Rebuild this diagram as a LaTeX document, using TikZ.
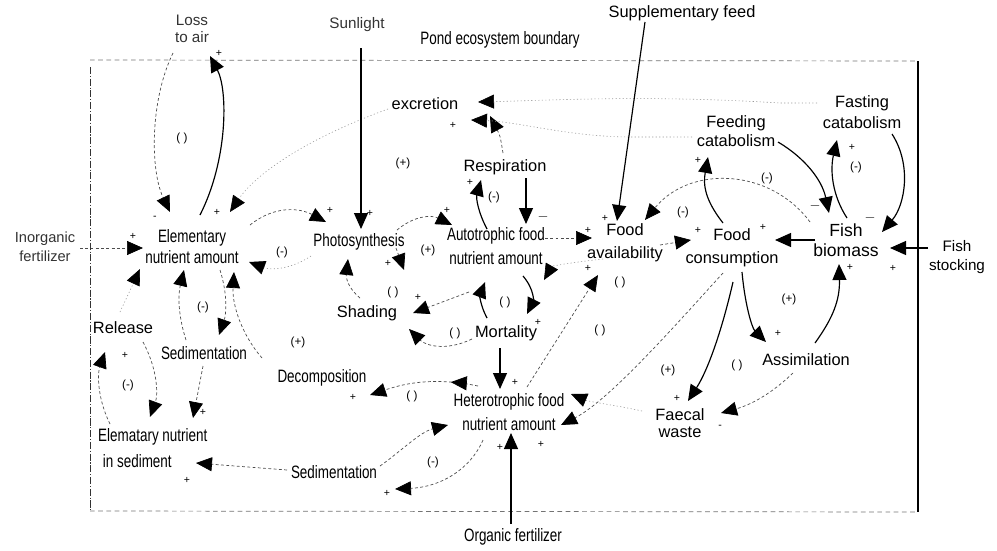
\documentclass[tikz,border=0pt]{standalone}
\usepackage{fontspec}
\setmainfont{Liberation Sans}
\newfontfamily\condf{Liberation Sans}[FakeStretch=0.75]
\usetikzlibrary{arrows.meta,calc,decorations.markings}
\begin{document}
\begin{tikzpicture}[x=0.03cm,y=-0.03cm,
  >={Triangle[length=0.48cm,width=0.42cm,color=black]},
  sl/.style={draw=black,line width=1pt,->},
  dl/.style={draw=black!70,line width=0.6pt,dash pattern=on 2.5pt off 2pt,->},
  fl/.style={draw=black!40,line width=0.5pt,dash pattern=on 1pt off 2pt,->},
  nl/.style={font=\fontsize{14}{18}\selectfont,align=center,inner sep=0pt},
  cl/.style={font=\condf\fontsize{15.3}{20}\selectfont,align=center,inner sep=0pt},
  sg/.style={font=\fontsize{9}{9}\selectfont,inner sep=0pt},
  ll/.style={font=\fontsize{10}{10}\selectfont,inner sep=0pt},
  midarrow/.style={postaction={decorate,decoration={markings,mark=at position 0.25 with {\arrow{>}}}}}
]
\useasboundingbox (0,0) rectangle (997,550);
% boundary
\draw[black!80,line width=0.8pt,dash pattern=on 6pt off 1.5pt on 1pt off 1.5pt] (90,67) -- (90,510);
\draw[black!55,line width=0.6pt,dash pattern=on 4pt off 3pt] (90,60) -- (918,61);
\draw[black,line width=0.9pt] (918,61) -- (918,512);
\draw[black!55,line width=0.6pt,dash pattern=on 4pt off 3pt] (90,511) -- (918,512);

% nodes
\node[nl,font=\fontsize{13}{14}\selectfont,text=black!80] (loss) at (192,29) {Loss\\to air};
\node[nl,font=\fontsize{13}{14}\selectfont,text=black!80] (sun) at (357,25) {Sunlight};
\node[cl] (pond) at (500,40) {Pond ecosystem boundary};
\node[nl] (supp) at (682,13) {Supplementary feed};
\node[nl] (excr) at (425,104) {excretion};
\node[nl] (resp) at (505,167) {Respiration};
\node[nl,font=\fontsize{14}{16}\selectfont] (feed) at (736,131) {Feeding\\catabolism};
\node[nl] (fast) at (862,112) {Fasting\\catabolism};
\node[cl,font=\condf\fontsize{15.3}{18}\selectfont] (elem) at (192,247) {Elementary\\nutrient amount};
\node[nl,font=\fontsize{12.5}{16}\selectfont,text=black!80] (inorg) at (45,247) {Inorganic\\fertilizer};
\node[cl] (photo) at (359,242) {Photosynthesis};
\node[cl,font=\condf\fontsize{15.3}{21}\selectfont] (auto) at (496,246) {Autotrophic food\\nutrient amount};
\node[nl,font=\fontsize{14}{19.5}\selectfont] (foodav) at (625,243) {Food\\availability};
\node[nl,font=\fontsize{14}{19.5}\selectfont] (foodcon) at (732,248) {Food\\consumption};
\node[nl,font=\fontsize{15}{17}\selectfont] (fish) at (846,240) {Fish\\biomass};
\node[nl,font=\fontsize{13}{16}\selectfont] (stock) at (957,257) {Fish\\stocking};
\node[nl] (shad) at (367,313) {Shading};
\node[nl] (mort) at (506,333) {Mortality};
\node[nl] (rel) at (123,328) {Release};
\node[cl] (sedl) at (204,353) {Sedimentation};
\node[cl] (decomp) at (322,378) {Decomposition};
\node[cl] (het) at (509,412) {Heterotrophic food\\nutrient amount};
\node[cl] (sedb) at (334,472) {Sedimentation};
\node[cl,align=left,anchor=west,font=\condf\fontsize{15.3}{22}\selectfont] (elsed) at (98,448) {Elematary nutrient\\\hspace*{4pt}in sediment};
\node[cl] (orgf) at (513,537) {Organic fertilizer};
\node[nl] (assim) at (806,360) {Assimilation};
\node[nl,font=\fontsize{14}{15}\selectfont] (faec) at (680,423) {Faecal\\waste};

% connectors
\draw[sl] ($(elem)+(8,-32)$) .. controls (228,160) and (228,90) .. ($(loss)+(18,27)$);
\draw[dl] ($(loss)+(-19,24)$) .. controls (150,100) and (150,170) .. ($(elem)+(-22,-35)$);
\draw[dl] ($(inorg)+(35,1)$) -- ($(elem)+(-49,1)$);
\draw[fl] ($(excr)+(-37,5)$) .. controls (303,140) and (255,175) .. ($(elem)+(38,-35)$);
\draw[dl] ($(elem)+(58,-22)$) .. controls (275,205) and (300,208) .. ($(photo)+(-33,-20)$);
\draw[fl] ($(photo)+(-48,14)$) .. controls (290,270) and (270,270) .. ($(elem)+(57,15)$);
\draw[sl] ($(sun)+(4,23)$) -- ($(photo)+(2,-13)$);
\draw[dl] ($(photo)+(38,-12)$) .. controls (415,215) and (432,215) .. ($(auto)+(-44,-21)$);
\draw[dl] ($(shad)+(-7,-15)$) .. controls (348,288) and (346,278) .. ($(photo)+(-11,17)$);
\draw[dl] ($(photo)+(37,6)$) -- ($(shad)+(37,-43)$);
\draw[dl] ($(auto)+(-27,46)$) -- ($(shad)+(46,0)$);
\draw[dl] ($(mort)+(-34,6)$) .. controls (445,352) and (425,345) .. ($(shad)+(42,16)$);
\draw[sl] ($(resp)+(21,11)$) -- ($(auto)+(30,-22)$);
\draw[sl] ($(auto)+(-9,-17)$) .. controls (478,212) and (476,198) .. ($(resp)+(-24,13)$);
\draw[dl] ($(resp)+(-2,-14)$) .. controls (500,135) .. ($(excr)+(65,12)$);
\draw[fl] ($(feed)+(-44,6)$) -- (632,137) .. controls (570,137) and (520,122) .. ($(excr)+(46,16)$);
\draw[fl] ($(fast)+(-45,-9)$) -- (780,103) .. controls (650,95) and (560,100) .. ($(excr)+(53,-2)$);
\draw[sl] ($(auto)+(27,30)$) .. controls (535,290) and (533,302) .. ($(mort)+(21,-19)$);
\draw[sl] ($(mort)+(-19,-15)$) .. controls (480,305) and (480,295) .. ($(auto)+(-11,36)$);
\draw[sl] ($(mort)+(-6,15)$) -- ($(het)+(-9,-23)$);
\draw[dl] ($(het)+(18,-25)$) -- ($(foodav)+(-27,32)$);
\draw[dl] ($(auto)+(49,-8)$) -- ($(foodav)+(-33,-5)$);
\draw[sl] ($(supp)+(-37,9)$) -- ($(foodav)+(-8,-22)$);
\draw[dl] ($(fish)+(-36,-18)$) .. controls (770,168) and (690,165) .. ($(foodav)+(20,-23)$);
\draw[dl] ($(foodav)+(35,2)$) -- ($(foodcon)+(-41,-8)$);
\draw[sl] ($(fish)+(-31,0)$) -- ($(foodcon)+(43,-8)$);
\draw[sl] ($(foodcon)+(-9,-25)$) .. controls (705,200) and (703,185) .. ($(feed)+(-28,26)$);
\draw[sl] ($(feed)+(42,11)$) .. controls (805,158) and (822,180) .. ($(fish)+(-17,-27)$);
\draw[sl] ($(fish)+(1,-22)$) .. controls (832,195) and (830,170) .. ($(fast)+(-25,28)$);
\draw[sl] ($(fast)+(30,22)$) .. controls (912,165) and (905,205) .. ($(fish)+(36,-8)$);
\draw[sl] ($(stock)+(-29,-9)$) -- ($(fish)+(44,8)$);
\draw[sl] ($(assim)+(9,-17)$) .. controls (833,318) and (840,300) .. ($(fish)+(-7,24)$);
\draw[sl] ($(foodcon)+(10,24)$) .. controls (745,305) and (752,328) .. ($(assim)+(-40,-18)$);
\draw[sl] ($(foodcon)+(1,34)$) .. controls (722,330) and (708,370) .. ($(faec)+(8,-22)$);
\draw[dl] ($(assim)+(-13,13)$) .. controls (770,395) and (750,405) .. ($(faec)+(41,-10)$);
\draw[dl] ($(foodcon)+(-9,25)$) .. controls (680,320) and (610,400) .. ($(het)+(52,13)$);
\draw[fl] ($(faec)+(-38,-12)$) .. controls (615,405) and (590,402) .. ($(het)+(62,-18)$);
\draw[sl] ($(orgf)+(-2,-13)$) -- ($(het)+(2,21)$);
\draw[dl,midarrow] ($(het)+(-31,-26)$) .. controls (430,376) and (400,385) .. ($(decomp)+(48,17)$);
\draw[dl] ($(het)+(-26,28)$) .. controls (470,470) and (440,487) .. ($(sedb)+(61,17)$);
\draw[dl] ($(sedb)+(46,-6)$) .. controls (400,452) and (420,432) .. ($(het)+(-61,13)$);
\draw[dl] ($(sedb)+(-47,-2)$) -- ($(elsed.west)+(98,15)$);
\draw[dl] ($(sedl)+(-1,13)$) -- ($(elsed.west)+(95,-30)$);
\draw[dl] ($(elem)+(28,23)$) .. controls (228,295) and (226,315) .. ($(sedl)+(15,-18)$);
\draw[dl] ($(sedl)+(-18,-13)$) .. controls (178,315) and (178,295) .. ($(elem)+(-8,23)$);
\draw[dl] ($(decomp)+(-60,-20)$) .. controls (242,335) and (232,305) .. ($(elem)+(42,25)$);
\draw[fl] ($(rel)+(-3,-16)$) -- ($(elem)+(-52,22)$);
\draw[dl] ($(rel)+(20,14)$) .. controls (158,370) and (158,395) .. ($(elsed.west)+(52,-31)$);
\draw[dl] ($(elsed.west)+(12,-24)$) .. controls (98,400) and (97,375) .. ($(rel)+(-18,24)$);
\draw[fl] ($(foodav)+(-22,16)$) .. controls (575,262) and (552,266) .. ($(auto)+(48,34)$);

% polarity signs
\foreach \p/\t in {{(219,53)}/+, {(155,218)}/-, {(217,212)}/+, {(133,236)}/+, {(125,355)}/+,
  {(203,412)}/+, {(187,480)}/+, {(330,210)}/+, {(370,213)}/+, {(447,210)}/+, {(388,263)}/+,
  {(418,297)}/+, {(470,182)}/+, {(453,125)}/+, {(538,322)}/+, {(515,382)}/+, {(500,447)}/+,
  {(541,444)}/+, {(353,397)}/+, {(387,493)}/+, {(588,230)}/+, {(605,218)}/+, {(588,268)}/+,
  {(698,230)}/+, {(698,160)}/+, {(763,227)}/+, {(852,147)}/+, {(893,268)}/+, {(850,267)}/+,
  {(778,333)}/+, {(677,398)}/+, {(720,427)}/-}
  \node[sg] at \p {\t};
\node[font=\fontsize{12}{12}\selectfont,inner sep=0pt] at (543,217) {$-$};
\node[font=\fontsize{12}{12}\selectfont,inner sep=0pt] at (815,206) {$-$};
\node[font=\fontsize{12}{12}\selectfont,inner sep=0pt] at (870,218) {$-$};

% loop labels
\foreach \p/\t in {{(182,138)}/( ), {(282,252)}/(-), {(203,307)}/(-), {(128,385)}/(-),
  {(298,342)}/(+), {(403,163)}/(+), {(428,250)}/(+), {(494,197)}/(-), {(393,292)}/( ),
  {(505,302)}/( ), {(455,333)}/( ), {(412,396)}/( ), {(433,462)}/(-), {(620,282)}/( ),
  {(600,330)}/( ), {(683,212)}/(-), {(767,178)}/(-), {(856,167)}/(-), {(789,299)}/(+),
  {(668,370)}/(+), {(737,365)}/( )}
  \node[ll] at \p {\t};
\end{tikzpicture}
\end{document}
